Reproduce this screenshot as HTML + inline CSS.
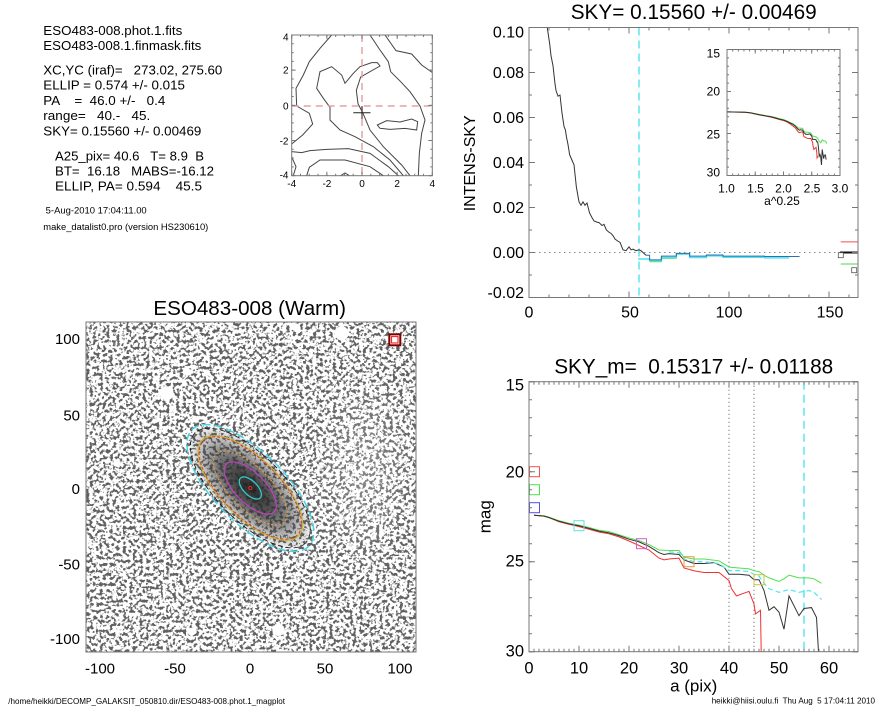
<!DOCTYPE html>
<html><head><meta charset="utf-8"><style>html,body{margin:0;padding:0;background:#fff}svg{display:block}text{white-space:pre}</style></head><body>
<svg xmlns="http://www.w3.org/2000/svg" width="885" height="708" viewBox="0 0 885 708" font-family="'Liberation Sans', Arial, sans-serif">
<defs>
<clipPath id="cTR"><rect x="529" y="27.5" width="329" height="270"/></clipPath>
<clipPath id="cBR"><rect x="529" y="381.7" width="329" height="270"/></clipPath>
<clipPath id="cIN"><rect x="727" y="49.5" width="113" height="126"/></clipPath>
<clipPath id="cIMG"><rect x="86" y="322" width="330" height="330"/></clipPath>
<clipPath id="cCT"><rect x="291.7" y="35" width="140.6" height="140.7"/></clipPath>
<filter id="nz" filterUnits="userSpaceOnUse" x="86" y="322" width="330" height="330" color-interpolation-filters="sRGB">
<feTurbulence type="fractalNoise" baseFrequency="0.3" numOctaves="2" seed="11"/>
<feColorMatrix type="matrix" values="1 0 0 0 0  1 0 0 0 0  1 0 0 0 0  0 0 0 0 1"/>
<feComponentTransfer>
<feFuncR type="discrete" tableValues="0.38 0.38 0.38 0.38 0.38 0.38 0.38 0.38 0.38 0.38 0.38 0.38 0.38 0.38 0.38 0.38 0.38 0.38 0.38 0.38 0.55 0.55 0.75 0.75 1 1 1 1 1 1 1 1 1 1 1 1 1 1 1 1 1 1 1 1 1 1 1 1 1 1"/>
<feFuncG type="discrete" tableValues="0.38 0.38 0.38 0.38 0.38 0.38 0.38 0.38 0.38 0.38 0.38 0.38 0.38 0.38 0.38 0.38 0.38 0.38 0.38 0.38 0.55 0.55 0.75 0.75 1 1 1 1 1 1 1 1 1 1 1 1 1 1 1 1 1 1 1 1 1 1 1 1 1 1"/>
<feFuncB type="discrete" tableValues="0.38 0.38 0.38 0.38 0.38 0.38 0.38 0.38 0.38 0.38 0.38 0.38 0.38 0.38 0.38 0.38 0.38 0.38 0.38 0.38 0.55 0.55 0.75 0.75 1 1 1 1 1 1 1 1 1 1 1 1 1 1 1 1 1 1 1 1 1 1 1 1 1 1"/>
</feComponentTransfer>
</filter>
<radialGradient id="gal" cx="0.5" cy="0.5" r="0.5">
<stop offset="0" stop-color="#1e1e1e" stop-opacity="0.95"/>
<stop offset="0.2" stop-color="#2a2a2a" stop-opacity="0.9"/>
<stop offset="0.4" stop-color="#333" stop-opacity="0.8"/>
<stop offset="0.58" stop-color="#3a3a3a" stop-opacity="0.6"/>
<stop offset="0.82" stop-color="#555" stop-opacity="0.3"/>
<stop offset="1" stop-color="#555" stop-opacity="0"/>
</radialGradient>
<radialGradient id="lite" cx="0.5" cy="0.5" r="0.5">
<stop offset="0" stop-color="#fff" stop-opacity="0.25"/>
<stop offset="1" stop-color="#fff" stop-opacity="0"/>
</radialGradient>
</defs>

<!-- ===== Top-left text ===== -->
<g font-size="13" fill="#000">
<text x="43.3" y="35" textLength="139" lengthAdjust="spacingAndGlyphs">ESO483-008.phot.1.fits</text>
<text x="43.3" y="50" textLength="158" lengthAdjust="spacingAndGlyphs">ESO483-008.1.finmask.fits</text>
<text x="43.3" y="74.3" textLength="179" lengthAdjust="spacingAndGlyphs" xml:space="preserve">XC,YC (iraf)=   273.02, 275.60</text>
<text x="43.3" y="89.3" textLength="141.7" lengthAdjust="spacingAndGlyphs" xml:space="preserve">ELLIP = 0.574 +/- 0.015</text>
<text x="43.3" y="105" textLength="122" lengthAdjust="spacingAndGlyphs" xml:space="preserve">PA    =  46.0 +/-   0.4</text>
<text x="43.3" y="120" textLength="107" lengthAdjust="spacingAndGlyphs" xml:space="preserve">range=   40.-   45.</text>
<text x="43.3" y="135.7" textLength="158" lengthAdjust="spacingAndGlyphs" xml:space="preserve">SKY= 0.15560 +/- 0.00469</text>
<text x="55" y="160.7" textLength="149" lengthAdjust="spacingAndGlyphs" xml:space="preserve">A25_pix= 40.6   T= 8.9  B</text>
<text x="55" y="175.7" textLength="159" lengthAdjust="spacingAndGlyphs" xml:space="preserve">BT=  16.18   MABS=-16.12</text>
<text x="55" y="190.7" textLength="147" lengthAdjust="spacingAndGlyphs" xml:space="preserve">ELLIP, PA= 0.594    45.5</text>
</g>
<text x="45.7" y="213.3" font-size="9" textLength="101" lengthAdjust="spacingAndGlyphs">5-Aug-2010 17:04:11.00</text>
<text x="43.3" y="230" font-size="9" textLength="165" lengthAdjust="spacingAndGlyphs">make_datalist0.pro (version HS230610)</text>

<!-- ===== Contour plot ===== -->
<g clip-path="url(#cCT)">
<g transform="translate(270,20) scale(0.333333)" fill="none" stroke="#444" stroke-width="1">
<path vector-effect="non-scaling-stroke" d="M185,45 L150,85 L118,125 L100,165 L78,205 L80,258 L118,280 L128,312 L98,345 L65,372"/>
<path vector-effect="non-scaling-stroke" d="M65,410 L78,440 L70,467"/>
<path vector-effect="non-scaling-stroke" d="M65,395 L95,398 L120,392 L170,388 L235,386 L300,400 L355,440 L385,467"/>
<path vector-effect="non-scaling-stroke" d="M110,467 L118,442 L150,420 L225,420 L300,440 L340,467"/>
<path vector-effect="non-scaling-stroke" d="M400,467 L360,420 L310,380 L255,350 L210,330 L180,300 L180,262 L160,235 L140,205 L150,155 L185,140 L215,165 L225,190 L250,160 L270,140 L305,128 L322,128 L330,138 L272,171 L259,211 L264,251 L279,280 L300,330 L340,380 L395,435 L420,467"/>
<path vector-effect="non-scaling-stroke" d="M300,45 L330,90 L355,125 L362,155 L392,185 L420,215 L450,258 L465,300 L455,340 L448,400 L445,467"/>
<path vector-effect="non-scaling-stroke" d="M345,45 L378,92 L425,102 L455,135 L488,158"/>
<path vector-effect="non-scaling-stroke" d="M322,315 L350,302 L390,306 L425,297 L443,305 L440,330 L405,325 L360,328 L330,325 Z"/>
<path vector-effect="non-scaling-stroke" d="M212,467 L225,459 L238,467"/>
</g>
<path d="M362,35 V175.7 M291.7,106 H432.3" stroke="#e8a0a0" stroke-width="1.5" stroke-dasharray="7 5" fill="none"/>
<path d="M353.3,112.7 H370.5 M362,106 V119" stroke="#222" stroke-width="1" fill="none"/>
</g>
<g stroke="#777" fill="none">
<rect x="291.7" y="35" width="140.6" height="140.7" stroke-width="1"/>
<line x1="291.2" y1="174.7" x2="432.8" y2="174.7" stroke-width="2" stroke-dasharray="1 7.79"/>
<line x1="291.2" y1="36" x2="432.8" y2="36" stroke-width="2" stroke-dasharray="1 7.79"/>
<line x1="291.2" y1="173.7" x2="432.8" y2="173.7" stroke-width="4" stroke-dasharray="1 34.16"/>
<line x1="291.2" y1="37" x2="432.8" y2="37" stroke-width="4" stroke-dasharray="1 34.16"/>
<line x1="292.7" y1="34.5" x2="292.7" y2="176.2" stroke-width="2" stroke-dasharray="1 7.79"/>
<line x1="431.3" y1="34.5" x2="431.3" y2="176.2" stroke-width="2" stroke-dasharray="1 7.79"/>
<line x1="293.7" y1="34.5" x2="293.7" y2="176.2" stroke-width="4" stroke-dasharray="1 34.16"/>
<line x1="430.3" y1="34.5" x2="430.3" y2="176.2" stroke-width="4" stroke-dasharray="1 34.16"/>
</g>
<g font-size="10" fill="#000" text-anchor="end">
<text x="288.5" y="40.3">4</text>
<text x="288.5" y="73.6">2</text>
<text x="288.5" y="109.6">0</text>
<text x="288.5" y="144.3">-2</text>
<text x="288.5" y="178.6">-4</text>
</g>
<g font-size="10" fill="#000" text-anchor="middle">
<text x="291.7" y="187">-4</text>
<text x="326.9" y="187">-2</text>
<text x="362" y="187">0</text>
<text x="397.1" y="187">2</text>
<text x="432.3" y="187">4</text>
</g>

<!-- ===== Top-right plot ===== -->
<text x="693.7" y="19" font-size="21" text-anchor="middle" textLength="246" lengthAdjust="spacingAndGlyphs">SKY= 0.15560 +/- 0.00469</text>
<g clip-path="url(#cTR)">
<line x1="529" y1="252.5" x2="858" y2="252.5" stroke="#888" stroke-width="1" stroke-dasharray="1.5 3.5"/>
<line x1="639" y1="27.5" x2="639" y2="297.5" stroke="#5ee6f0" stroke-width="1.5" stroke-dasharray="8 5"/>
<g transform="translate(529,252.5) scale(2,-2250)" fill="none">
<path vector-effect="non-scaling-stroke" stroke="#60e060" stroke-width="1" d="M60.3,-0.0041 L66.2,-0.0041 L66.2,-0.0026 L73.7,-0.0026"/>
<path vector-effect="non-scaling-stroke" stroke="#50e4ee" stroke-width="1.5" d="M54.5,-0.0029 L60.3,-0.0029 L60.3,-0.0036 L66.2,-0.0036 L66.2,-0.0022 L73.7,-0.0022 L73.7,-0.0007 L80.3,-0.0007 L80.3,-0.0022 L88.7,-0.0022 L88.7,-0.0015 L97,-0.0015 L97,-0.0021 L117.8,-0.0021 L117.8,-0.0024 L130,-0.0024"/>
<path vector-effect="non-scaling-stroke" stroke="#2a6fb0" stroke-width="1" d="M58.5,-0.0012 L60.3,-0.0012 L60.3,-0.0033 L66.2,-0.0033 L66.2,-0.0016 L73.7,-0.0016 L73.7,-0.0004 L80.3,-0.0004 L80.3,-0.0016 L88.7,-0.0016 L88.7,-0.0011 L97,-0.0011 L97,-0.0016 L117.8,-0.0016 L117.8,-0.0018 L135.3,-0.0018"/>
<path vector-effect="non-scaling-stroke" stroke="#333" stroke-width="1" d="M8.5,0.106 L9.2,0.0996 L10.3,0.093 L11,0.0875 L12,0.083 L13,0.075 L13.5,0.072 L14.5,0.0695 L15.5,0.0700 L16.5,0.062 L17.5,0.056 L18.2,0.0545 L18.7,0.0515 L19.5,0.048 L20.3,0.0435 L21.5,0.041 L22.5,0.039 L23.7,0.029 L25,0.0225 L26,0.021 L27,0.0225 L28,0.021 L29,0.022 L30.3,0.0175 L31.5,0.0155 L32.5,0.014 L34,0.0135 L35,0.0133 L36.5,0.012 L37.5,0.0125 L38.7,0.010 L40,0.009 L41,0.0085 L42,0.0075 L43,0.006 L44.5,0.005 L45.5,0.0045 L47,0.0012 L48.5,0.0008 L50,0.0025 L51,0.0012 L52,0.0015 L53.5,0.0008 L55,0.0012 L56,0.0008 L57,0.0 L58.5,-0.0012"/>
</g>
<line x1="840.7" y1="241.9" x2="858" y2="241.9" stroke="#f05050" stroke-width="1"/>
<line x1="840" y1="252.5" x2="858" y2="252.5" stroke="#111" stroke-width="2"/>
<line x1="840.7" y1="264" x2="858" y2="264" stroke="#50d050" stroke-width="1"/>
<rect x="838.3" y="252.7" width="5" height="5" fill="#fff" stroke="#555" stroke-width="0.8"/>
<rect x="851.7" y="267.7" width="5" height="5" fill="none" stroke="#555" stroke-width="0.8"/>
</g>
<g stroke="#777" fill="none">
<rect x="529" y="27.5" width="329" height="270" stroke-width="1"/>
<line x1="528.5" y1="296" x2="858" y2="296" stroke-width="3" stroke-dasharray="1 19"/>
<line x1="528.5" y1="29" x2="858" y2="29" stroke-width="3" stroke-dasharray="1 19"/>
<line x1="528.5" y1="294.5" x2="858" y2="294.5" stroke-width="6" stroke-dasharray="1 99"/>
<line x1="528.5" y1="30.5" x2="858" y2="30.5" stroke-width="6" stroke-dasharray="1 99"/>
<line x1="530.5" y1="27" x2="530.5" y2="298" stroke-width="3" stroke-dasharray="1 21.5"/>
<line x1="856.5" y1="27" x2="856.5" y2="298" stroke-width="3" stroke-dasharray="1 21.5"/>
<line x1="532" y1="27" x2="532" y2="298" stroke-width="6" stroke-dasharray="1 44"/>
<line x1="855" y1="27" x2="855" y2="298" stroke-width="6" stroke-dasharray="1 44"/>
</g>
<g font-size="16" fill="#000" text-anchor="end">
<text x="524" y="37.5">0.10</text>
<text x="524" y="78.2">0.08</text>
<text x="524" y="122.8">0.06</text>
<text x="524" y="168.2">0.04</text>
<text x="524" y="212.8">0.02</text>
<text x="524" y="258.2">0.00</text>
<text x="524" y="298.2">-0.02</text>
</g>
<g font-size="16" fill="#000" text-anchor="middle">
<text x="529" y="317.3">0</text>
<text x="630" y="317.3">50</text>
<text x="729" y="317.3">100</text>
<text x="830" y="317.3">150</text>
</g>
<text transform="translate(475,163.3) rotate(-90)" font-size="16" text-anchor="middle">INTENS-SKY</text>

<!-- inset -->
<rect x="727" y="49.5" width="113" height="126" fill="#fff"/>
<g clip-path="url(#cIN)">
<g transform="translate(670.5,-76.5) scale(56.5,8.4)" fill="none" stroke-width="1">
<path vector-effect="non-scaling-stroke" stroke="#50e050" d="M1,22.42 L1.316,22.45 L1.414,22.52 L1.565,22.72 L1.682,22.87 L1.778,22.97 L1.861,23.1 L1.934,23.25 L2.0,23.33 L2.06,23.5 L2.115,23.68 L2.166,23.83 L2.213,24.05 L2.258,24.35 L2.3,24.38 L2.34,24.38 L2.36,24.75 L2.397,24.85 L2.432,24.85 L2.483,24.95 L2.515,25.3 L2.546,25.35 L2.576,25.4 L2.59,25.5 L2.604,25.55 L2.618,25.75 L2.632,25.9 L2.659,26.1 L2.672,25.95 L2.685,25.75 L2.711,25.9 L2.735,25.9 L2.748,25.95 L2.766,26.2"/>
<path vector-effect="non-scaling-stroke" stroke="#f03030" d="M1,22.42 L1.316,22.47 L1.414,22.55 L1.565,22.78 L1.682,22.92 L1.778,23.05 L1.861,23.2 L1.934,23.35 L2.0,23.45 L2.06,23.62 L2.115,23.85 L2.166,24.1 L2.213,24.35 L2.258,24.8 L2.28,24.9 L2.3,24.85 L2.34,24.8 L2.36,25.35 L2.397,25.5 L2.432,25.6 L2.483,25.6 L2.515,26.05 L2.523,26.5 L2.538,26.9 L2.561,26.75 L2.576,26.65 L2.59,27.35 L2.594,27.9 L2.609,27.7"/>
<path vector-effect="non-scaling-stroke" stroke="#333" d="M1,22.42 L1.316,22.47 L1.414,22.55 L1.565,22.75 L1.682,22.9 L1.778,23.0 L1.861,23.15 L1.934,23.3 L2.0,23.4 L2.06,23.55 L2.115,23.75 L2.166,23.9 L2.213,24.15 L2.258,24.5 L2.28,24.6 L2.3,24.55 L2.34,24.6 L2.36,24.9 L2.397,25.1 L2.432,25.1 L2.466,25.05 L2.499,25.3 L2.515,25.7 L2.546,25.7 L2.576,25.75 L2.59,26.0 L2.604,26.0 L2.618,26.6 L2.632,27.7 L2.646,27.5 L2.659,27.8 L2.672,28.75 L2.685,26.9 L2.711,28.0 L2.723,27.6 L2.742,27.55 L2.754,28.1"/>
</g>
</g>
<g stroke="#777" fill="none">
<rect x="727" y="49.5" width="113" height="126" stroke-width="1"/>
<line x1="726.5" y1="174.5" x2="840.5" y2="174.5" stroke-width="2" stroke-dasharray="1 4.65"/>
<line x1="726.5" y1="50.5" x2="840.5" y2="50.5" stroke-width="2" stroke-dasharray="1 4.65"/>
<line x1="726.5" y1="173.5" x2="840.5" y2="173.5" stroke-width="4" stroke-dasharray="1 27.25"/>
<line x1="726.5" y1="51.5" x2="840.5" y2="51.5" stroke-width="4" stroke-dasharray="1 27.25"/>
<line x1="728" y1="49" x2="728" y2="176" stroke-width="2" stroke-dasharray="1 7.4"/>
<line x1="839" y1="49" x2="839" y2="176" stroke-width="2" stroke-dasharray="1 7.4"/>
<line x1="729" y1="49" x2="729" y2="176" stroke-width="4" stroke-dasharray="1 41"/>
<line x1="838" y1="49" x2="838" y2="176" stroke-width="4" stroke-dasharray="1 41"/>
</g>
<g font-size="12" fill="#000" text-anchor="end">
<text x="720" y="57.3">15</text>
<text x="720" y="95.7">20</text>
<text x="720" y="138.3">25</text>
<text x="720" y="176.7">30</text>
</g>
<g font-size="12" fill="#000" text-anchor="middle">
<text x="726.5" y="192.7">1.0</text>
<text x="755.5" y="192.7">1.5</text>
<text x="783.5" y="192.7">2.0</text>
<text x="812" y="192.7">2.5</text>
<text x="840" y="192.7">3.0</text>
<text x="782" y="205">a^0.25</text>
</g>

<!-- ===== Bottom-left image ===== -->
<text x="249.7" y="315" font-size="20.5" text-anchor="middle" textLength="192.7" lengthAdjust="spacingAndGlyphs">ESO483-008 (Warm)</text>
<g clip-path="url(#cIMG)">
<rect x="86" y="322" width="330" height="330" fill="#fff"/>
<rect x="86" y="322" width="330" height="330" filter="url(#nz)"/>
<ellipse cx="365" cy="470" rx="60" ry="110" fill="url(#lite)"/>
<g fill="#fff">
<circle cx="341.7" cy="333.3" r="7"/>
<circle cx="166.7" cy="393.3" r="7"/>
<circle cx="186.7" cy="371.7" r="4"/>
<circle cx="278.3" cy="630" r="6"/>
<circle cx="191.7" cy="631.7" r="4"/>
<circle cx="276.7" cy="573.3" r="4"/>
<circle cx="296.7" cy="328.3" r="4"/>
<circle cx="116.7" cy="463.3" r="3.5"/>
</g>
<g transform="rotate(45 250.3 488)">
<ellipse cx="250.3" cy="488" rx="82" ry="36" fill="url(#gal)"/>
<ellipse cx="250.3" cy="488" rx="82.5" ry="35.2" fill="none" stroke="#45d5e5" stroke-width="1.5" stroke-dasharray="8 4"/>
<ellipse cx="250.3" cy="488" rx="78" ry="33" fill="none" stroke="#111" stroke-width="0.8" stroke-dasharray="5 3"/>
<ellipse cx="250.3" cy="488" rx="68" ry="29" fill="none" stroke="#c8b838" stroke-width="1.3"/>
<ellipse cx="250.3" cy="488" rx="66.5" ry="28.5" fill="none" stroke="#d04030" stroke-width="1" stroke-dasharray="3 2"/>
<ellipse cx="250.3" cy="488" rx="48" ry="20.5" fill="none" stroke="#e09a45" stroke-width="1.2" stroke-dasharray="2 2"/>
<ellipse cx="250.3" cy="488" rx="33.7" ry="15" fill="none" stroke="#c040c0" stroke-width="1.2"/>
<ellipse cx="250.3" cy="488" rx="14" ry="7" fill="none" stroke="#30d0d0" stroke-width="1.2"/>
<circle cx="250.3" cy="488" r="1.6" fill="none" stroke="#e03030" stroke-width="1"/>
</g>
<rect x="389.3" y="334.3" width="11" height="11" fill="#fff" stroke="#7a0000" stroke-width="2"/>
<rect x="391.5" y="336.5" width="6.5" height="6.5" fill="#fff" stroke="#f03030" stroke-width="1.2"/>
</g>
<rect x="86" y="322" width="330" height="330" fill="none" stroke="#777" stroke-width="1"/>
<g font-size="15" fill="#000" text-anchor="end">
<text x="80" y="344">100</text>
<text x="80" y="420.7">50</text>
<text x="80" y="494">0</text>
<text x="80" y="569.3">-50</text>
<text x="80" y="644">-100</text>
</g>
<g font-size="15" fill="#000" text-anchor="middle">
<text x="100" y="673.3">-100</text>
<text x="175" y="673.3">-50</text>
<text x="250" y="673.3">0</text>
<text x="325" y="673.3">50</text>
<text x="400" y="673.3">100</text>
</g>

<!-- ===== Bottom-right plot ===== -->
<text x="693.7" y="373.3" font-size="21" text-anchor="middle" textLength="279" lengthAdjust="spacingAndGlyphs" xml:space="preserve">SKY_m=  0.15317 +/- 0.01188</text>
<g clip-path="url(#cBR)">
<line x1="729" y1="381.7" x2="729" y2="651.7" stroke="#555" stroke-width="1" stroke-dasharray="1 3"/>
<line x1="754" y1="381.7" x2="754" y2="651.7" stroke="#555" stroke-width="1" stroke-dasharray="1 3"/>
<line x1="804" y1="381.7" x2="804" y2="651.7" stroke="#5ee6f0" stroke-width="1.5" stroke-dasharray="8 5"/>
<g transform="translate(529,111.7) scale(5,18)" fill="none" stroke-width="1">
<path vector-effect="non-scaling-stroke" stroke="#50e050" d="M1,22.42 L3,22.45 L4,22.52 L6,22.72 L8,22.87 L10,22.97 L12,23.1 L14,23.25 L16,23.33 L18,23.5 L20,23.68 L22,23.83 L24,24.05 L26,24.35 L28,24.38 L30,24.38 L31,24.75 L33,24.85 L35,24.85 L38,24.95 L40,25.3 L42,25.35 L44,25.4 L45,25.5 L46,25.55 L47,25.75 L48,25.9 L50,26.1 L51,25.95 L52,25.75 L54,25.9 L56,25.9 L57,25.95 L58.5,26.2"/>
<path vector-effect="non-scaling-stroke" stroke="#f03030" d="M1,22.42 L3,22.47 L4,22.55 L6,22.78 L8,22.92 L10,23.05 L12,23.2 L14,23.35 L16,23.45 L18,23.62 L20,23.85 L22,24.1 L24,24.35 L26,24.8 L27,24.9 L28,24.85 L30,24.8 L31,25.35 L33,25.5 L35,25.6 L38,25.6 L40,26.05 L40.5,26.5 L41.5,26.9 L43,26.75 L44,26.65 L45,27.35 L45.3,27.9 L46.3,27.7 L46.5,31"/>
<path vector-effect="non-scaling-stroke" stroke="#333" d="M1,22.42 L3,22.47 L4,22.55 L6,22.75 L8,22.9 L10,23.0 L12,23.15 L14,23.3 L16,23.4 L18,23.55 L20,23.75 L22,23.9 L24,24.15 L26,24.5 L27,24.6 L28,24.55 L30,24.6 L31,24.9 L33,25.1 L35,25.1 L37,25.05 L39,25.3 L40,25.7 L42,25.7 L44,25.75 L45,26.0 L46,26.0 L47,26.6 L48,27.7 L49,27.5 L50,27.8 L51,28.75 L52,26.9 L54,28.0 L55,27.6 L56.5,27.55 L57.5,28.1 L58,30.5"/>
</g>
<polyline fill="none" stroke="#5ee6f0" stroke-width="1.3" stroke-dasharray="5 3" points="669,551.8 679,552.7 684,559 694,561.7 704,561.7 719,563.5 729,570.7 739,570.7 749,571.6 754,574.3 759,576.1 764,583.3 769,588.7 779,592.3 789,589.6 799,592.3 809,590.5 814,592.3 821.5,599.5"/>
<g fill="none" stroke-width="1">
<rect x="529.5" y="466.7" width="10" height="10" stroke="#f05050"/>
<rect x="529.5" y="484.7" width="10" height="10" stroke="#50e050"/>
<rect x="529.5" y="502.7" width="10" height="10" stroke="#5050f0"/>
<rect x="574" y="520.7" width="10" height="10" stroke="#60e0e0"/>
<rect x="636.5" y="538.7" width="10" height="10" stroke="#d060d0"/>
<rect x="684" y="556.7" width="10" height="10" stroke="#e0a040"/>
<rect x="754" y="574.7" width="10" height="10" stroke="#d0c040"/>
</g>
</g>
<g stroke="#777" fill="none">
<rect x="529" y="381.7" width="329" height="270" stroke-width="1"/>
<line x1="528.5" y1="650.2" x2="858.5" y2="650.2" stroke-width="3" stroke-dasharray="1 4"/>
<line x1="528.5" y1="383.2" x2="858.5" y2="383.2" stroke-width="3" stroke-dasharray="1 4"/>
<line x1="528.5" y1="648.7" x2="858.5" y2="648.7" stroke-width="6" stroke-dasharray="1 49"/>
<line x1="528.5" y1="384.7" x2="858.5" y2="384.7" stroke-width="6" stroke-dasharray="1 49"/>
<line x1="530.5" y1="381.2" x2="530.5" y2="652.2" stroke-width="3" stroke-dasharray="1 17"/>
<line x1="856.5" y1="381.2" x2="856.5" y2="652.2" stroke-width="3" stroke-dasharray="1 17"/>
<line x1="532" y1="381.2" x2="532" y2="652.2" stroke-width="6" stroke-dasharray="1 89"/>
<line x1="855" y1="381.2" x2="855" y2="652.2" stroke-width="6" stroke-dasharray="1 89"/>
</g>
<g font-size="16.5" fill="#000" text-anchor="end">
<text x="524" y="390.7">15</text>
<text x="524" y="477.3">20</text>
<text x="524" y="566.7">25</text>
<text x="524" y="656.7">30</text>
</g>
<g font-size="16.5" fill="#000" text-anchor="middle">
<text x="529" y="673.3">0</text>
<text x="579" y="673.3">10</text>
<text x="629" y="673.3">20</text>
<text x="679" y="673.3">30</text>
<text x="729" y="673.3">40</text>
<text x="779" y="673.3">50</text>
<text x="829" y="673.3">60</text>
</g>
<text x="693.7" y="691.7" font-size="17" text-anchor="middle">a (pix)</text>
<text transform="translate(490.5,516.7) rotate(-90)" font-size="17" text-anchor="middle">mag</text>

<!-- footers -->
<text x="8.3" y="704" font-size="8.5" textLength="276.7" lengthAdjust="spacingAndGlyphs">/home/heikki/DECOMP_GALAKSIT_050810.dir/ESO483-008.phot.1_magplot</text>
<text x="711.7" y="703.3" font-size="8.5" textLength="163.3" lengthAdjust="spacingAndGlyphs" xml:space="preserve">heikki@hiisi.oulu.fi  Thu Aug  5 17:04:11 2010</text>
</svg>
</body></html>
